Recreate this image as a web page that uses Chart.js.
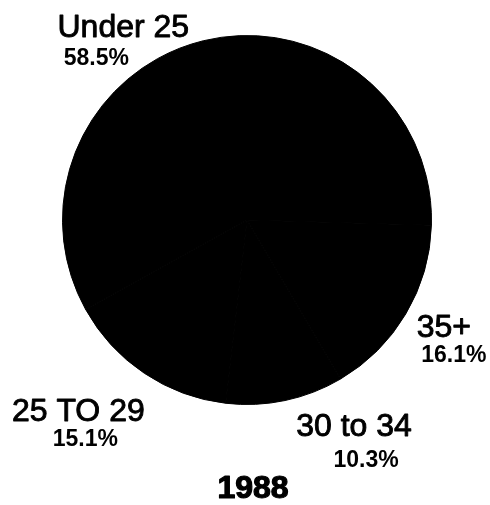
<!DOCTYPE html>
<html>
<head>
<meta charset="utf-8">
<title>1988</title>
<script src="https://cdn.jsdelivr.net/npm/chart.js@4"></script>
<style>
  html, body { margin: 0; padding: 0; background: #fff; }
  #wrap { width: 490px; height: 505px; position: relative; }
</style>
</head>
<body>
<div id="wrap"><canvas id="chart"></canvas></div>
<script>
const groups = ['Under 25', '35+', '30 to 34', '25 TO 29'];
const shares = [58.5, 16.1, 10.3, 15.1];
const year = '1988';

// label placement relative to each slice's outer edge midpoint: [dx, dy] for name, then percent
const nameOffsets = [[-80, -4], [38, 23], [69, 35], [-66, 48]];
const pctOffsets = [[-107, 24], [48, 48], [81, 66], [-59, 73]];

const sliceLabels = {
  id: 'sliceLabels',
  afterDraw(chart) {
    const ctx = chart.ctx;
    const arcs = chart.getDatasetMeta(0).data;
    ctx.save();
    ctx.fillStyle = '#000';
    ctx.strokeStyle = '#000';
    ctx.lineJoin = 'round';
    ctx.textAlign = 'center';
    ctx.textBaseline = 'alphabetic';
    arcs.forEach((arc, i) => {
      const mid = (arc.startAngle + arc.endAngle) / 2;
      const ax = arc.x + Math.cos(mid) * arc.outerRadius;
      const ay = arc.y + Math.sin(mid) * arc.outerRadius;
      const nx = ax + nameOffsets[i][0], ny = ay + nameOffsets[i][1];
      ctx.font = '32px "Liberation Sans", Arial, sans-serif';
      ctx.lineWidth = 0.9;
      ctx.fillText(groups[i], nx, ny);
      ctx.strokeText(groups[i], nx, ny);
      ctx.font = 'bold 23px "Liberation Sans", Arial, sans-serif';
      ctx.fillText(shares[i].toFixed(1) + '%', ax + pctOffsets[i][0], ay + pctOffsets[i][1]);
    });
    ctx.font = 'bold 32px "Liberation Sans", Arial, sans-serif';
    ctx.lineWidth = 1.2;
    ctx.fillText(year, 253, 498);
    ctx.strokeText(year, 253, 498);
    ctx.restore();
  }
};

new Chart(document.getElementById('chart'), {
  type: 'pie',
  data: {
    labels: groups,
    datasets: [{
      data: shares,
      backgroundColor: '#000',
      borderColor: '#000',
      borderWidth: 1
    }]
  },
  options: {
    responsive: true,
    maintainAspectRatio: false,
    animation: false,
    rotation: 241,
    layout: { padding: { left: 62, right: 58, top: 33, bottom: 98 } },
    plugins: {
      legend: { display: false },
      tooltip: { enabled: false }
    }
  },
  plugins: [sliceLabels]
});
</script>
</body>
</html>
